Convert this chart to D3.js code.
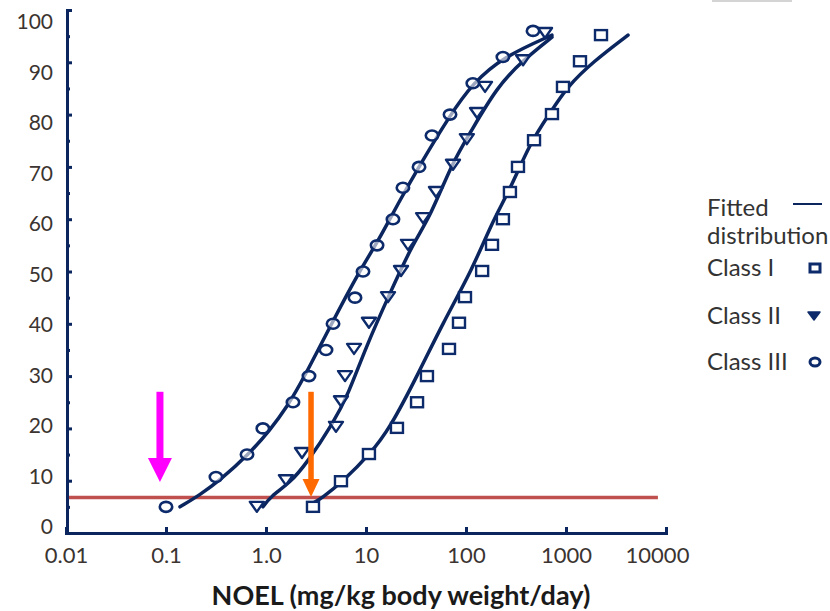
<!DOCTYPE html>
<html>
<head>
<meta charset="utf-8">
<script src="https://cdn.jsdelivr.net/npm/d3@7"></script>
<style>
  html, body { margin: 0; padding: 0; background: #fff; }
  svg { display: block; }
  text { font-family: Lato, "Open Sans", sans-serif; }
</style>
</head>
<body>
<svg id="chart" width="830" height="611"></svg>
<script>
// ---------- data ----------
const xTicks = [0.01, 0.1, 1, 10, 100, 1000, 10000];
const xTickLabels = ["0.01", "0.1", "1.0", "10", "100", "1000", "10000"];
const yTicks = [0, 10, 20, 30, 40, 50, 60, 70, 80, 90, 100];
const yMinorTicks = [5, 15, 25, 35, 45, 55, 65, 75, 85, 95];

// Class I (squares)
const classI_x = [2.95, 5.62, 10.7, 20.4, 32.4, 40.7, 67.6, 85.1, 97.7, 145, 182, 234, 275, 331, 479, 724, 933, 1380, 2239];
const classI_y = [5, 9.9, 15.1, 20.1, 25, 30, 35.2, 40.2, 45.1, 50.1, 55.1, 60, 65.2, 70, 75.1, 80.1, 85.3, 90.2, 95.2];
// Class II (triangles)
const classII_x = [0.81, 1.58, 2.29, 5.01, 5.62, 6.17, 7.59, 10.7, 16.6, 22.4, 26.3, 37.2, 50.1, 74.1, 102, 129, 155, 372, 617];
const classII_y = [5, 10.1, 15.3, 20.3, 25.2, 30, 35.2, 40.2, 45.1, 50.1, 55.1, 60.2, 65.2, 70.4, 75.3, 80.3, 85.3, 90.4, 95.6];
// Class III (circles)
const classIII_x = [0.1, 0.316, 0.646, 0.93, 1.86, 2.69, 3.98, 4.68, 7.76, 9.33, 12.9, 18.6, 23.4, 33.9, 45.7, 69.2, 117, 234, 468];
const classIII_y = [5, 10.7, 15, 20, 25, 30, 35, 40, 45, 50, 55, 60, 66, 70, 76, 80, 86, 91, 96];

// Fitted distributions
const fitI_x = [2.95, 3.63, 5.89, 11.0, 17.4, 32.4, 58.9, 115, 186, 275, 437, 692, 1023, 1862, 4169];
const fitI_y = [5.7, 6.7, 9.9, 15.1, 20.1, 30.0, 40.2, 50.3, 59.8, 65.6, 74.6, 80.3, 85.3, 90.1, 95.2];
const fitII_x = [0.933, 1.10, 1.74, 2.57, 4.68, 6.61, 10.0, 17.4, 29.5, 43.7, 72.4, 110, 204, 372, 724];
const fitII_y = [5.0, 6.9, 9.6, 13.4, 21.0, 26.4, 35.6, 45.9, 55.4, 60.4, 70.7, 76.5, 85.3, 90.4, 94.8];
const fitIII_x = [0.138, 0.219, 0.347, 0.661, 1.10, 1.62, 2.34, 4.57, 8.71, 12.9, 21.9, 34.7, 69.2, 117, 234, 724];
const fitIII_y = [5.0, 7.3, 10.1, 14.9, 19.7, 24.1, 29.3, 40.2, 50.3, 55.4, 63.7, 70.4, 79.9, 86.0, 91.0, 95.2];

// Threshold line and arrow annotations
const thresholdY = 6.8;
const thresholdX = [0.0107, 8300];
const arrowMagenta = { x: 0.087, yTop: 27, yTip: 9.75 };
const arrowOrange = { x: 2.82, yTop: 27, yTip: 6.9 };

const legendLabels = ["Class I", "Class II", "Class III"];

// ---------- drawing ----------
const navy = "#0b255f";
const svg = d3.select("#chart");

const x = d3.scaleLog().domain([0.01, 10000]).range([66, 666]);
const y = d3.scaleLinear().domain([0, 100]).range([533, 10]);
// tick labels in the reference are spaced slightly tighter than the ticks
const yLab = d3.scaleLinear().domain([0, 100]).range([527, 22]);

// top-right grey artifact
svg.append("rect").attr("x", 712).attr("y", 0).attr("width", 80).attr("height", 2).attr("fill", "#d4d4d4");

// Y axis: minor ticks
svg.append("g").attr("transform", "translate(67,0)")
  .call(d3.axisLeft(y).tickValues(yMinorTicks).tickSize(-3).tickSizeOuter(0).tickFormat(""))
  .call(g => g.select(".domain").remove())
  .call(g => g.selectAll("line").attr("stroke", navy).attr("stroke-width", 3));
// Y axis: major ticks + domain
svg.append("g").attr("transform", "translate(67,0)")
  .call(d3.axisLeft(y).tickValues(yTicks).tickSize(-5).tickSizeOuter(-5).tickFormat(""))
  .call(g => g.select(".domain").attr("stroke", navy).attr("stroke-width", 3).attr("fill", "none"))
  .call(g => g.selectAll("line").attr("stroke", navy).attr("stroke-width", 3));
// Y labels
svg.append("g").attr("transform", "translate(67,0)")
  .call(d3.axisLeft(yLab).tickValues(yTicks).tickSize(0).tickPadding(14))
  .call(g => g.select(".domain").remove())
  .call(g => g.selectAll("text").attr("font-size", 21).attr("fill", "#3b3431")
      .attr("font-family", "Lato, sans-serif"));

// X axis
svg.append("g").attr("transform", "translate(0,533)")
  .call(d3.axisBottom(x).tickValues(xTicks).tickSize(-6).tickSizeOuter(-6).tickPadding(14)
      .tickFormat((d, i) => xTickLabels[i]))
  .call(g => g.select(".domain").attr("stroke", navy).attr("stroke-width", 3).attr("fill", "none"))
  .call(g => g.selectAll("line").attr("stroke", navy).attr("stroke-width", 3))
  .call(g => g.selectAll("text").attr("font-size", 22).attr("fill", "#3b3431")
      .attr("font-family", "Lato, sans-serif")
      .attr("dx", (d, i) => i === xTicks.length - 1 ? -9 : 0));

// X title
svg.append("text").attr("x", 401).attr("y", 605).attr("text-anchor", "middle")
  .attr("font-size", 27).attr("font-weight", "bold").attr("fill", "#1a1a1a")
  .text("NOEL (mg/kg body weight/day)");

// Threshold line
svg.append("line")
  .attr("x1", x(thresholdX[0])).attr("x2", x(thresholdX[1]))
  .attr("y1", y(thresholdY)).attr("y2", y(thresholdY))
  .attr("stroke", "#c0504d").attr("stroke-width", 3.5);

// Fitted curves
const line = d3.line().x(d => x(d[0])).y(d => y(d[1])).curve(d3.curveBasis);
[[fitI_x, fitI_y], [fitII_x, fitII_y], [fitIII_x, fitIII_y]].forEach(([xs, ys]) => {
  svg.append("path").datum(xs.map((v, i) => [v, ys[i]]))
    .attr("d", line).attr("fill", "none").attr("stroke", navy)
    .attr("stroke-width", 3.5).attr("stroke-linecap", "round");
});

// Markers
const mk = "#0d2b6b";
svg.append("g").selectAll("rect").data(classI_x.map((v, i) => [v, classI_y[i]])).join("rect")
  .attr("x", d => x(d[0]) - 6).attr("y", d => y(d[1]) - 5)
  .attr("width", 12).attr("height", 10)
  .attr("fill", "#fff").attr("stroke", mk).attr("stroke-width", 2.4);

const tri = "M-7,-5 L7,-5 L0,5 Z";
svg.append("g").selectAll("path").data(classII_x.map((v, i) => [v, classII_y[i]])).join("path")
  .attr("transform", d => `translate(${x(d[0])},${y(d[1])})`)
  .attr("d", tri).attr("fill", "#fff").attr("fill-opacity", 0.6)
  .attr("stroke", mk).attr("stroke-width", 2.4).attr("stroke-linejoin", "round");

svg.append("g").selectAll("ellipse").data(classIII_x.map((v, i) => [v, classIII_y[i]])).join("ellipse")
  .attr("cx", d => x(d[0])).attr("cy", d => y(d[1]))
  .attr("rx", 6.2).attr("ry", 5)
  .attr("fill", "#fff").attr("fill-opacity", 0.6).attr("stroke", mk).attr("stroke-width", 2.6);

// Arrows
function drawArrow(a, color, shaftW, headW, headH) {
  const px = x(a.x), yTop = y(a.yTop), yTip = y(a.yTip);
  const yBase = yTip - headH;
  svg.append("rect").attr("x", px - shaftW / 2).attr("y", yTop)
    .attr("width", shaftW).attr("height", yBase - yTop + 1).attr("fill", color);
  svg.append("path")
    .attr("d", `M${px - headW / 2},${yBase} L${px + headW / 2},${yBase} L${px},${yTip} Z`)
    .attr("fill", color);
}
drawArrow(arrowMagenta, "#ff00ff", 7, 24, 24);
drawArrow(arrowOrange, "#ff6a00", 5.5, 17, 18);

// Legend
const lg = svg.append("g").attr("font-size", 24).attr("fill", "#333");
lg.append("text").attr("x", 707).attr("y", 216).text("Fitted");
lg.append("text").attr("x", 707).attr("y", 244).text("distribution");
lg.append("line").attr("x1", 793).attr("x2", 822).attr("y1", 204).attr("y2", 204)
  .attr("stroke", navy).attr("stroke-width", 2);
const legY = [276, 324, 370];
legendLabels.forEach((t, i) => lg.append("text").attr("x", 707).attr("y", legY[i]).text(t));
lg.append("rect").attr("x", 810).attr("y", 264).attr("width", 10).attr("height", 8)
  .attr("fill", "#fff").attr("stroke", mk).attr("stroke-width", 3);
lg.append("path").attr("transform", "translate(814,316)").attr("d", "M-6,-4 L6,-4 L0,4 Z")
  .attr("fill", mk).attr("stroke", mk).attr("stroke-width", 1.5).attr("stroke-linejoin", "round");
lg.append("ellipse").attr("cx", 815).attr("cy", 362).attr("rx", 5).attr("ry", 4)
  .attr("fill", "#fff").attr("stroke", mk).attr("stroke-width", 3);
</script>
</body>
</html>
